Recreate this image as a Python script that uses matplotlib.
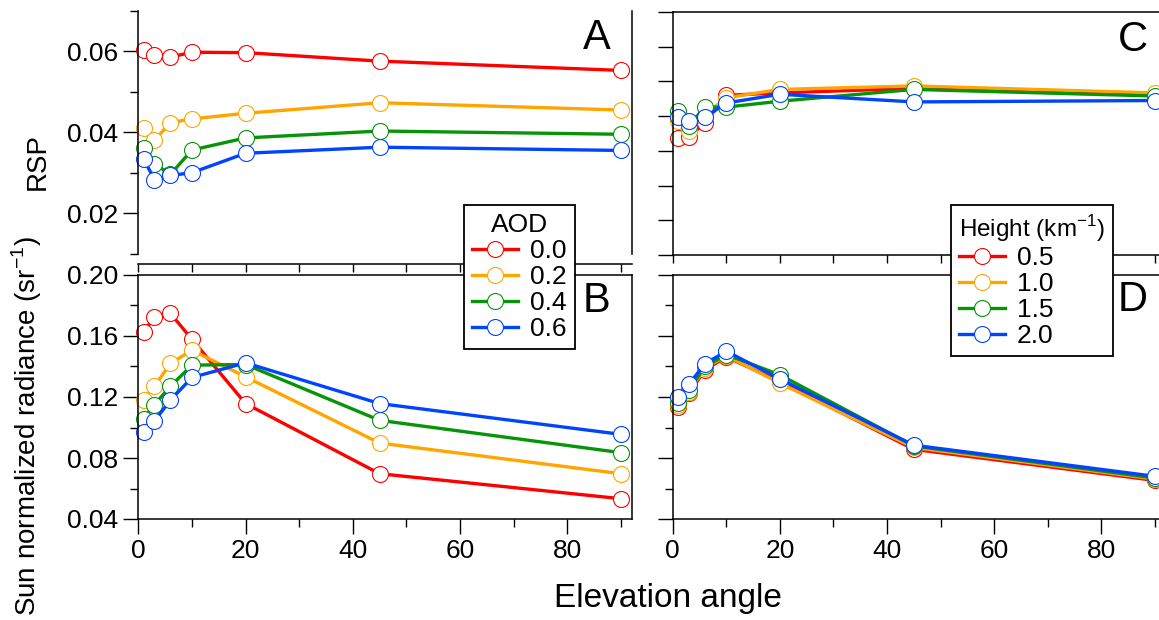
import matplotlib
matplotlib.use("Agg")
import matplotlib.pyplot as plt
from matplotlib.ticker import NullFormatter, FixedLocator

plt.rcParams['font.family'] = ['Liberation Sans', 'DejaVu Sans']
plt.rcParams['mathtext.fontset'] = 'custom'
plt.rcParams['mathtext.rm'] = 'Liberation Sans'

# ---------------- data ----------------
elev = [1, 3, 6, 10, 20, 45, 90]

aod_labels = ['0.0', '0.2', '0.4', '0.6']
height_labels = ['0.5', '1.0', '1.5', '2.0']
colors = ['#ff0000', '#ffa500', '#089408', '#0044ff']

# Panel A: RSP vs elevation for AOD
rsp_aod_00 = [0.0603, 0.0592, 0.0586, 0.0598, 0.0597, 0.0576, 0.0553]
rsp_aod_02 = [0.0411, 0.0380, 0.0424, 0.0433, 0.0447, 0.0473, 0.0455]
rsp_aod_04 = [0.0360, 0.0322, 0.0296, 0.0356, 0.0386, 0.0403, 0.0395]
rsp_aod_06 = [0.0334, 0.0283, 0.0293, 0.0300, 0.0348, 0.0363, 0.0355]

# Panel B: sun normalized radiance vs elevation for AOD
snr_aod_00 = [0.1627, 0.1726, 0.1748, 0.1578, 0.1157, 0.0697, 0.0533]
snr_aod_02 = [0.1183, 0.1271, 0.1420, 0.1507, 0.1332, 0.0898, 0.0697]
snr_aod_04 = [0.1058, 0.1150, 0.1271, 0.1409, 0.1413, 0.1047, 0.0835]
snr_aod_06 = [0.0970, 0.1043, 0.1179, 0.1328, 0.1424, 0.1157, 0.0955]

# Panel C: RSP vs elevation for aerosol height
rsp_h_05 = [0.0336, 0.0341, 0.0380, 0.0460, 0.0467, 0.0480, 0.0465]
rsp_h_10 = [0.0385, 0.0356, 0.0404, 0.0453, 0.0477, 0.0487, 0.0467]
rsp_h_15 = [0.0414, 0.0373, 0.0426, 0.0426, 0.0443, 0.0477, 0.0458]
rsp_h_20 = [0.0397, 0.0385, 0.0397, 0.0438, 0.0463, 0.0441, 0.0445]

# Panel D: sun normalized radiance vs elevation for aerosol height
snr_h_05 = [0.1134, 0.1223, 0.1378, 0.1463, 0.1300, 0.0857, 0.0653]
snr_h_10 = [0.1150, 0.1234, 0.1389, 0.1471, 0.1290, 0.0869, 0.0662]
snr_h_15 = [0.1163, 0.1245, 0.1400, 0.1478, 0.1345, 0.0879, 0.0669]
snr_h_20 = [0.1201, 0.1283, 0.1418, 0.1500, 0.1318, 0.0884, 0.0680]

x_major = [0, 20, 40, 60, 80]
x_minor = [10, 30, 50, 70, 90]

# ---------------- figure ----------------
W, H = 1159, 620
fig = plt.figure(figsize=(W / 100, H / 100), dpi=100)


def px_axes(left, top, right, bottom):
    return fig.add_axes([left / W, 1 - bottom / H, (right - left) / W, (bottom - top) / H])


axA = px_axes(138.3, 11, 631.7, 253.5)
axB = px_axes(138.3, 275, 631.7, 519)
axC = px_axes(672.8, 12, 1165.5, 255)
axD = px_axes(672.8, 275, 1165.5, 519)

LW = 2.4
MS = 11.5
MEW = 0.8
FS = 19


def draw(ax, series, labels):
    lines = []
    for ys, c, lab in zip(series, colors, labels):
        ln, = ax.plot(elev, ys, '-', color=c, lw=LW, marker='o', ms=MS,
                      mfc='white', mec=c, mew=MEW, label=lab, clip_on=False)
        lines.append(ln)
    return lines


linesA = draw(axA, [rsp_aod_00, rsp_aod_02, rsp_aod_04, rsp_aod_06], aod_labels)
draw(axB, [snr_aod_00, snr_aod_02, snr_aod_04, snr_aod_06], aod_labels)
linesC = draw(axC, [rsp_h_05, rsp_h_10, rsp_h_15, rsp_h_20], height_labels)
draw(axD, [snr_h_05, snr_h_10, snr_h_15, snr_h_20], height_labels)

for ax in (axA, axB, axC, axD):
    ax.set_xlim(0, 92)
    for s in ax.spines.values():
        s.set_linewidth(1.1)
    ax.xaxis.set_major_locator(FixedLocator(x_major))
    ax.xaxis.set_minor_locator(FixedLocator(x_minor))
    ax.tick_params(which='both', direction='out', width=1.0, colors='black',
                   labelsize=FS, top=False, right=False)
    ax.tick_params(which='major', length=11)
    ax.tick_params(which='minor', length=5.5)

# Panel A
axA.set_ylim(0.01, 0.07)
axA.yaxis.set_major_locator(FixedLocator([0.02, 0.04, 0.06]))
axA.yaxis.set_minor_locator(FixedLocator([0.01, 0.03, 0.05, 0.07]))
axA.yaxis.set_major_formatter(plt.FuncFormatter(lambda v, p: f"{v:.2f}"))
axA.spines['top'].set_visible(False)
axA.spines['bottom'].set_position(('outward', 7.2))
axA.tick_params(axis='x', which='both', length=6, labelbottom=False)

# Panel B
axB.set_ylim(0.04, 0.20)
axB.yaxis.set_major_locator(FixedLocator([0.04, 0.08, 0.12, 0.16, 0.20]))
axB.yaxis.set_minor_locator(FixedLocator([0.06, 0.10, 0.14, 0.18]))
axB.yaxis.set_major_formatter(plt.FuncFormatter(lambda v, p: f"{v:.2f}"))

# Panel C
axC.set_ylim(0.0, 0.07)
axC.yaxis.set_major_locator(FixedLocator([0.0, 0.01, 0.02, 0.03, 0.04, 0.05, 0.06, 0.07]))
axC.yaxis.set_minor_formatter(NullFormatter())
axC.tick_params(axis='y', labelleft=False)
axC.tick_params(axis='x', which='both', length=6, labelbottom=False)

# Panel D
axD.set_ylim(0.04, 0.20)
axD.yaxis.set_major_locator(FixedLocator([0.04, 0.08, 0.12, 0.16, 0.20]))
axD.yaxis.set_minor_locator(FixedLocator([0.06, 0.10, 0.14, 0.18]))
axD.tick_params(axis='y', which='both', labelleft=False)

# panel letters
fig.text(597 / W, 1 - 38 / H, 'A', fontsize=30, ha='center', va='center')
fig.text(597 / W, 1 - 301 / H, 'B', fontsize=30, ha='center', va='center')
fig.text(1133 / W, 1 - 40 / H, 'C', fontsize=30, ha='center', va='center')
fig.text(1133 / W, 1 - 300 / H, 'D', fontsize=30, ha='center', va='center')

# axis labels
fig.text(38 / W, 1 - 161 / H, 'RSP', fontsize=20, rotation=90, ha='center', va='center')
fig.text(27 / W, 1 - 236 / H, r'Sun normalized radiance (sr$^{-1}$)', fontsize=20,
         rotation=90, ha='center', va='top')
fig.text(668 / W, 1 - 598 / H, 'Elevation angle', fontsize=24, ha='center', va='center')

# legends
legkw = dict(loc='upper left', frameon=True, fancybox=False, shadow=False,
             borderaxespad=0, handlelength=1.75, handletextpad=0.45,
             labelspacing=0.08, borderpad=0.3, fontsize=FS, title_fontsize=FS,
             edgecolor='black', framealpha=1)
legA = fig.legend(handles=linesA, labels=aod_labels, title='AOD',
                  bbox_to_anchor=(464 / W, 1 - 205 / H), **legkw)
legA.get_frame().set_linewidth(1.3)
legkw2 = dict(legkw)
legkw2['title_fontsize'] = 17.5
legC = fig.legend(handles=linesC, labels=height_labels, title=r'Height (km$^{-1}$)',
                  bbox_to_anchor=(951 / W, 1 - 205 / H), **legkw2)
legC.get_frame().set_linewidth(1.3)
legC._legend_box.align = 'left'

fig.savefig('out.png', dpi=100)
